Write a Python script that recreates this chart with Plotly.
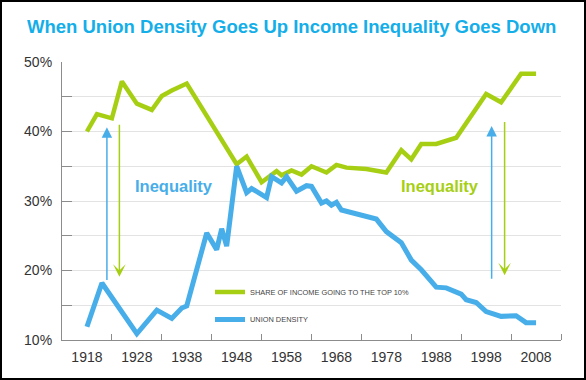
import plotly.graph_objects as go

# ---- data ----
title_text = "When Union Density Goes Up Income Inequality Goes Down"
share_name = "SHARE OF INCOME GOING TO THE TOP 10%"
union_name = "UNION DENSITY"

share_years = [1918, 1920, 1923, 1925, 1928, 1931, 1933, 1935, 1938, 1948, 1950, 1953,
               1956, 1957, 1959, 1961, 1963, 1966, 1968, 1970, 1974, 1978, 1981, 1983,
               1985, 1988, 1992, 1995, 1998, 2001, 2005, 2008]
share_values = [40.0, 42.5, 41.9, 47.2, 44.0, 43.1, 45.1, 45.9, 46.9, 35.3, 36.4, 32.7,
                34.3, 33.7, 34.4, 33.8, 35.0, 34.1, 35.2, 34.8, 34.6, 34.1, 37.3, 36.0,
                38.2, 38.2, 39.1, 42.2, 45.4, 44.2, 48.3, 48.3]

union_years = [1918, 1921, 1928, 1932, 1935, 1937, 1938, 1942, 1944, 1945, 1946, 1948,
               1950, 1951, 1954, 1955, 1957, 1958, 1960, 1962, 1963, 1965, 1966, 1967,
               1968, 1969, 1976, 1978, 1981, 1983, 1985, 1988, 1990, 1993, 1994, 1996,
               1998, 2001, 2004, 2006, 2008]
union_values = [11.9, 18.2, 10.9, 14.3, 13.1, 14.6, 14.9, 25.4, 23.0, 26.0, 23.5, 35.0,
                31.2, 31.8, 30.5, 33.5, 32.6, 33.5, 31.4, 32.2, 32.1, 29.7, 30.0, 29.4,
                29.8, 28.7, 27.4, 25.6, 24.0, 21.5, 20.1, 17.6, 17.5, 16.6, 15.8, 15.4,
                14.1, 13.4, 13.5, 12.5, 12.5]

x_label_years = [1918, 1928, 1938, 1948, 1958, 1968, 1978, 1988, 1998, 2008]
x_tick_years = [1923, 1933, 1943, 1953, 1963, 1973, 1983, 1993, 2003, 2013]
y_label_vals = [10, 20, 30, 40, 50]
y_label_text = ["10%", "20%", "30%", "40%", "50%"]

# arrows: (x, y_tail, y_head)
arrow_union_left = (1922.0, 18.4, 40.6)
arrow_share_left = (1924.5, 41.2, 19.1)
arrow_union_right = (1999.1, 18.6, 40.8)
arrow_share_right = (2001.7, 41.6, 19.3)
label_left = (1935.5, 32.1)
label_right = (1988.8, 32.1)

GREEN = "#a6cf14"
BLUE = "#47aee9"
TITLE_BLUE = "#14aee9"
TEXT = "#333333"

fig = go.Figure()
fig.add_trace(go.Scatter(x=share_years, y=share_values, mode="lines", name=share_name,
                         legendgroup="a", line=dict(color=GREEN, width=4.5)))
fig.add_trace(go.Scatter(x=union_years, y=union_values, mode="lines", name=union_name,
                         legendgroup="b", line=dict(color=BLUE, width=5)))

annotations = []
for (ax_, yt, yh), col, head in [
    (arrow_union_left, BLUE, 2), (arrow_share_left, GREEN, 3),
    (arrow_union_right, BLUE, 2), (arrow_share_right, GREEN, 3)]:
    annotations.append(dict(x=ax_, y=yh, ax=ax_, ay=yt, xref="x", yref="y",
                            axref="x", ayref="y", text="", showarrow=True,
                            arrowhead=head, arrowsize=1.4, arrowwidth=1.5,
                            arrowcolor=col, standoff=0, startstandoff=0))
annotations.append(dict(x=label_left[0], y=label_left[1], xref="x", yref="y",
                        text="<b>Inequality</b>", showarrow=False,
                        font=dict(family="Liberation Sans, Arial", size=16.5, color=BLUE)))
annotations.append(dict(x=label_right[0], y=label_right[1], xref="x", yref="y",
                        text="<b>Inequality</b>", showarrow=False,
                        font=dict(family="Liberation Sans, Arial", size=16.5, color=GREEN)))

# layout geometry
W, H = 586, 380
ml, mr, mt, mb = 62, 25, 62, 40
pw, ph = W - ml - mr, H - mt - mb

def px_to_paper_x(px):
    return (px - ml) / pw

def py_to_paper_y(py):
    return (H - mb - py) / ph

fig.update_layout(
    width=W, height=H,
    margin=dict(l=ml, r=mr, t=mt, b=mb, pad=0),
    paper_bgcolor="white", plot_bgcolor="white",
    title=dict(text="<b>" + title_text + "</b>", x=27 / W, xanchor="left",
               y=1 - 27 / H, yanchor="middle", xref="container", yref="container",
               font=dict(family="Liberation Sans, Arial", size=18.5, color=TITLE_BLUE)),
    showlegend=True,
    legend=dict(x=px_to_paper_x(210), y=py_to_paper_y(277.5), xanchor="left", yanchor="top",
                bgcolor="rgba(0,0,0,0)", tracegroupgap=8.5, traceorder="grouped",
                font=dict(family="Liberation Sans, Arial", size=7.4, color="#444444")),
    annotations=annotations,
    shapes=[dict(type="rect", xref="paper", yref="paper",
                 x0=px_to_paper_x(1), x1=px_to_paper_x(W - 1),
                 y0=py_to_paper_y(H - 1), y1=py_to_paper_y(1),
                 line=dict(color="black", width=2), layer="above")],
)

fig.update_xaxes(range=[1913, 2013], tickmode="array", tickvals=x_label_years,
                 ticks="", showgrid=False, zeroline=False,
                 showline=True, linecolor="#8c8c8c", linewidth=1.2,
                 tickfont=dict(family="Liberation Sans, Arial", size=14, color=TEXT),
                 ticklabelstandoff=4,
                 minor=dict(tickmode="array", tickvals=x_tick_years, ticks="inside",
                            ticklen=6, tickcolor="#8c8c8c", tickwidth=1.2, showgrid=False))
fig.update_yaxes(range=[10, 50], tickmode="array", tickvals=y_label_vals,
                 ticktext=y_label_text, ticks="inside", ticklen=10, tickcolor="#8c8c8c",
                 tickwidth=1.2, showgrid=True, gridcolor="#e3e3e3", gridwidth=1.2,
                 zeroline=False, showline=True, linecolor="#8c8c8c", linewidth=1.2,
                 tickfont=dict(family="Liberation Sans, Arial", size=14, color=TEXT),
                 ticklabelstandoff=6,
                 minor=dict(dtick=5, tick0=0, ticks="inside", ticklen=10,
                            tickcolor="#8c8c8c", tickwidth=1.2, showgrid=True,
                            gridcolor="#e3e3e3", gridwidth=1.2))

fig.write_html("out.html", config={"displayModeBar": False},
               post_script="document.body.style.margin='0px';document.body.style.padding='0px';")
